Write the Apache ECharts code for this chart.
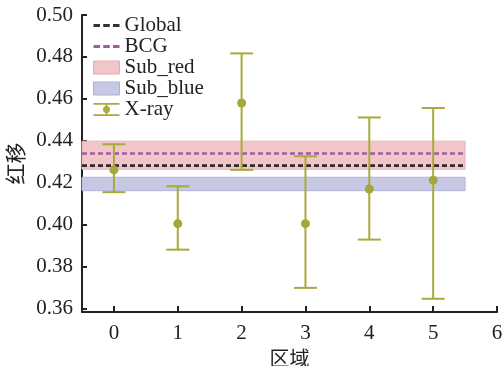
<!DOCTYPE html>
<html><head><meta charset="utf-8">
<script src="https://cdn.jsdelivr.net/npm/echarts@6/dist/echarts.min.js"></script>
<style>html,body{margin:0;padding:0;background:#fff}#c{width:503px;height:366px}</style>
</head><body><div id="c"></div>
<script>
const regions = [0, 1, 2, 3, 4, 5];
const xrayZ = [0.4262, 0.4006, 0.4581, 0.4006, 0.4171, 0.4213];
const xrayLow = [0.4156, 0.3882, 0.4262, 0.3700, 0.3930, 0.3648];
const xrayHigh = [0.4384, 0.4184, 0.4817, 0.4327, 0.4512, 0.4557];
const globalZ = 0.4282;
const bcgZ = 0.4340;
const subRed = [0.4265, 0.4399];
const subBlue = [0.4163, 0.4227];
const bandSpan = [-0.5, 5.5];
const xTicks = [0, 1, 2, 3, 4, 5, 6];
const yTicks = [0.36, 0.38, 0.40, 0.42, 0.44, 0.46, 0.48, 0.50];

const olive = '#a9a93c';
const serif = 'Liberation Serif';
const dashIcon = 'path://M0,0h6.5v2.8h-6.5z M9.75,0h6.5v2.8h-6.5z M19.5,0h6.5v2.8h-6.5z';
const xrayIcon = 'path://M0,0H26V1.8H0Z M12.2,1.8H13.8V11.2H12.2Z M0,11.2H26V13H0Z ' +
  'M11.6,3.1L14.4,3.1L16.4,5.1L16.4,7.9L14.4,9.9L11.6,9.9L9.6,7.9L9.6,5.1Z';

function bandItem(fill, stroke) {
  return function (params, api) {
    const p0 = api.coord([api.value(0), api.value(3)]);
    const p1 = api.coord([api.value(1), api.value(2)]);
    return {
      type: 'rect',
      shape: { x: p0[0], y: p0[1], width: p1[0] - p0[0], height: p1[1] - p0[1] },
      style: { fill: fill, stroke: stroke, lineWidth: 1 }
    };
  };
}

const chart = echarts.init(document.getElementById('c'));
chart.setOption({
  animation: false,
  grid: { left: 82, right: 6, top: 15, bottom: 54, containLabel: false, outerBoundsMode: 'none' },
  legend: {
    left: 93, top: 15, orient: 'vertical', padding: 0,
    itemWidth: 26, itemHeight: 13, itemGap: 0, itemTextGap: 4, symbolKeepAspect: true,
    textStyle: { fontFamily: serif, fontSize: 21, color: '#222', lineHeight: 20 },
    data: [
      { name: 'Global', icon: dashIcon, itemStyle: { color: '#333' } },
      { name: 'BCG', icon: dashIcon, itemStyle: { color: '#a05ca0' } },
      { name: 'Sub_red', icon: 'rect', itemStyle: { color: '#f2c5c9', borderColor: '#e6aab1', borderWidth: 1 } },
      { name: 'Sub_blue', icon: 'rect', itemStyle: { color: '#c6c8e4', borderColor: '#adb1d6', borderWidth: 1 } },
      { name: 'X-ray', icon: xrayIcon, itemStyle: { color: olive } }
    ]
  },
  xAxis: {
    type: 'value', min: -0.5, max: 6,
    name: '区域', nameLocation: 'middle', nameGap: 32,
    nameTextStyle: { fontFamily: 'Noto Sans CJK SC', fontSize: 20, color: '#222' },
    axisLine: { show: true, onZero: false, lineStyle: { color: '#222', width: 2 } },
    axisTick: { show: true, inside: true, length: 6, customValues: xTicks, lineStyle: { color: '#222', width: 2 } },
    axisLabel: { customValues: xTicks, fontFamily: serif, fontSize: 21, color: '#222', margin: 11 },
    splitLine: { show: false }
  },
  yAxis: {
    type: 'value', min: 0.3585, max: 0.50,
    name: '红移', nameLocation: 'middle', nameGap: 54,
    nameTextStyle: { fontFamily: 'Noto Sans CJK SC', fontSize: 21, color: '#222' },
    axisLine: { show: true, onZero: false, lineStyle: { color: '#222', width: 2 } },
    axisTick: { show: true, inside: true, length: 5, customValues: yTicks, lineStyle: { color: '#222', width: 2 } },
    axisLabel: { customValues: yTicks, fontFamily: serif, fontSize: 21, color: '#222', margin: 9,
      formatter: v => v.toFixed(2) },
    splitLine: { show: false }
  },
  series: [
    {
      name: 'Sub_red', type: 'custom', z: 1,
      itemStyle: { color: '#f2c5c9' },
      renderItem: bandItem('#f2c5c9', '#eab3b9'),
      encode: { x: [0, 1], y: [2, 3] },
      data: [[bandSpan[0], bandSpan[1], subRed[0], subRed[1]]]
    },
    {
      name: 'Sub_blue', type: 'custom', z: 1,
      itemStyle: { color: '#c6c8e4' },
      renderItem: bandItem('#c6c8e4', '#b2b5d9'),
      encode: { x: [0, 1], y: [2, 3] },
      data: [[bandSpan[0], bandSpan[1], subBlue[0], subBlue[1]]]
    },
    {
      name: 'Global', type: 'line', z: 2, symbol: 'none',
      lineStyle: { color: '#2b2b2b', width: 2.8, type: [5, 3] },
      itemStyle: { color: '#333' },
      data: [[bandSpan[0], globalZ], [bandSpan[1], globalZ]]
    },
    {
      name: 'BCG', type: 'line', z: 2, symbol: 'none',
      lineStyle: { color: '#a05ca0', width: 2.4, type: [5, 3] },
      itemStyle: { color: '#a05ca0' },
      data: [[bandSpan[0], bcgZ], [bandSpan[1], bcgZ]]
    },
    {
      name: 'X-ray', type: 'custom', z: 3,
      itemStyle: { color: olive },
      renderItem: function (params, api) {
        const x = api.value(0);
        const lo = api.coord([x, api.value(1)]);
        const hi = api.coord([x, api.value(2)]);
        const hw = 11.5;
        const st = { stroke: olive, lineWidth: 2 };
        return {
          type: 'group',
          children: [
            { type: 'line', shape: { x1: hi[0], y1: hi[1], x2: lo[0], y2: lo[1] }, style: st },
            { type: 'line', shape: { x1: hi[0] - hw, y1: hi[1], x2: hi[0] + hw, y2: hi[1] }, style: st },
            { type: 'line', shape: { x1: lo[0] - hw, y1: lo[1], x2: lo[0] + hw, y2: lo[1] }, style: st }
          ]
        };
      },
      encode: { x: 0, y: [1, 2] },
      data: regions.map((r, i) => [r, xrayLow[i], xrayHigh[i]])
    },
    {
      name: 'X-ray', type: 'scatter', z: 4,
      symbol: 'circle', symbolSize: 9,
      itemStyle: { color: '#a6a63a', opacity: 1 },
      data: regions.map((r, i) => [r, xrayZ[i]])
    }
  ]
});
</script>
</body></html>
